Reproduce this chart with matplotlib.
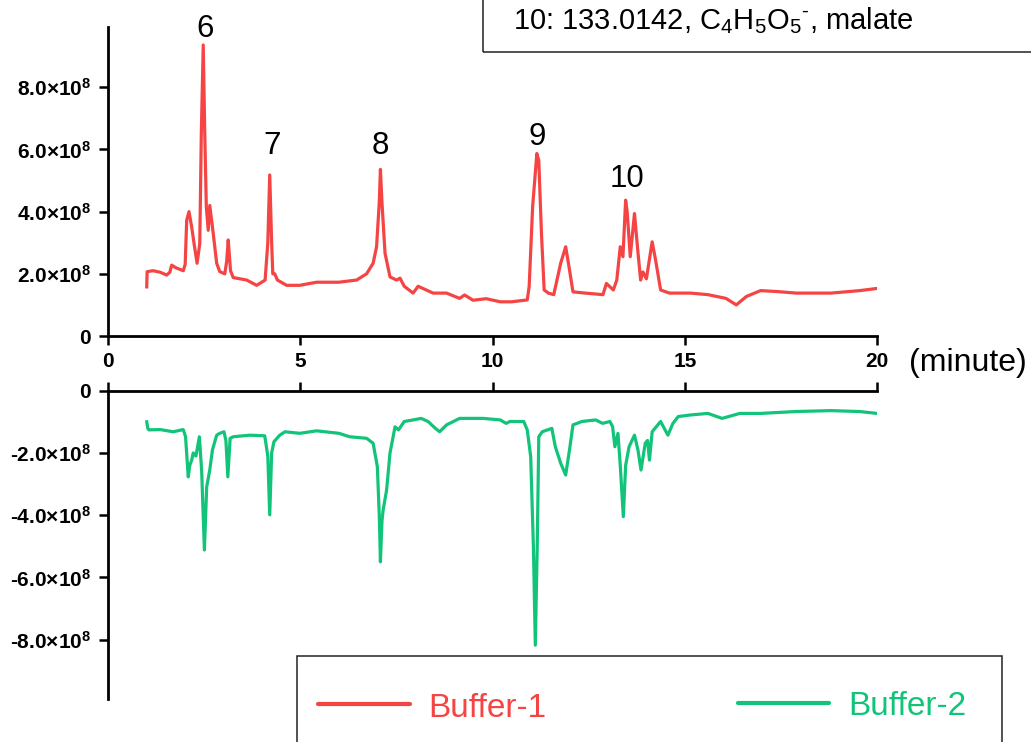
import matplotlib
matplotlib.use("Agg")
import matplotlib.pyplot as plt
from matplotlib.patches import Rectangle
from matplotlib.lines import Line2D
from matplotlib.ticker import FixedLocator, FuncFormatter

plt.rcParams["font.family"] = ["Liberation Sans", "DejaVu Sans"]
plt.rcParams["mathtext.fontset"] = "custom"
plt.rcParams["mathtext.rm"] = "Liberation Sans"
plt.rcParams["mathtext.it"] = "Liberation Sans:italic"
plt.rcParams["mathtext.bf"] = "Liberation Sans:bold"

# ---- data (intensity in units of 1e8) ----
red_time = [1.00, 1.01, 1.17, 1.35, 1.52, 1.60, 1.65, 1.75, 1.95, 2.00, 2.04, 2.10,
            2.17, 2.24, 2.31, 2.38, 2.42, 2.47, 2.51, 2.55, 2.60, 2.64, 2.73, 2.82,
            2.90, 3.03, 3.08, 3.12, 3.18, 3.25, 3.60, 3.86, 4.08, 4.15, 4.20, 4.25,
            4.28, 4.33, 4.40, 4.64, 4.98, 5.42, 6.00, 6.46, 6.72, 6.89, 6.98, 7.05,
            7.08, 7.12, 7.20, 7.33, 7.50, 7.59, 7.70, 7.93, 8.06, 8.45, 8.80, 9.14,
            9.27, 9.49, 9.83, 10.20, 10.49, 10.90, 10.95, 11.04, 11.15, 11.20, 11.27,
            11.34, 11.45, 11.59, 11.77, 11.90, 11.99, 12.09, 12.41, 12.87, 12.96,
            13.14, 13.23, 13.32, 13.39, 13.46, 13.50, 13.58, 13.69, 13.78, 13.85,
            13.91, 14.00, 14.15, 14.24, 14.37, 14.60, 15.15, 15.60, 16.07, 16.34,
            16.60, 16.97, 17.40, 17.90, 18.80, 19.55, 20.00]
red_value = [1.58, 2.07, 2.10, 2.05, 1.96, 2.05, 2.28, 2.20, 2.10, 2.30, 3.73, 4.00,
             3.50, 2.90, 2.34, 2.98, 6.50, 9.36, 6.50, 4.16, 3.40, 4.20, 3.30, 2.34,
             2.07, 2.00, 2.40, 3.09, 2.10, 1.88, 1.80, 1.63, 1.80, 3.00, 5.18, 3.00,
             2.00, 2.00, 1.80, 1.63, 1.63, 1.73, 1.73, 1.80, 2.00, 2.34, 2.87, 4.30,
             5.36, 4.30, 2.66, 1.90, 1.80, 1.86, 1.60, 1.38, 1.60, 1.38, 1.38, 1.21,
             1.32, 1.15, 1.20, 1.10, 1.10, 1.16, 1.59, 4.16, 5.87, 5.65, 3.30,
             1.48, 1.38, 1.33, 2.34, 2.87, 2.20, 1.42, 1.38, 1.33, 1.69,
             1.48, 1.80, 2.87, 2.55, 4.37, 4.00, 2.55, 3.94, 2.70, 1.80,
             2.06, 1.84, 3.03, 2.44, 1.48, 1.38, 1.38, 1.33, 1.21, 1.00,
             1.27, 1.46, 1.43, 1.38, 1.38, 1.46, 1.53]

green_time = [1.00, 1.03, 1.06, 1.35, 1.69, 1.95, 2.01, 2.08, 2.12, 2.17, 2.21, 2.28,
              2.37, 2.43, 2.50, 2.56, 2.64, 2.71, 2.82, 2.90, 3.01, 3.06, 3.11, 3.17,
              3.25, 3.68, 4.07, 4.15, 4.20, 4.25, 4.31, 4.46, 4.60, 4.98, 5.42, 6.00,
              6.28, 6.72, 6.89, 7.00, 7.05, 7.08, 7.12, 7.15, 7.24, 7.33, 7.46, 7.55,
              7.70, 7.93, 8.14, 8.32, 8.50, 8.62, 8.80, 9.14, 9.75, 10.20, 10.35, 10.45,
              10.81, 10.90, 10.99, 11.06, 11.11, 11.16, 11.20, 11.29, 11.54, 11.63,
              11.77, 11.90, 12.00, 12.09, 12.32, 12.68, 12.86, 13.05, 13.12, 13.18,
              13.26, 13.32, 13.40, 13.46, 13.55, 13.69, 13.78, 13.86, 13.97, 14.03,
              14.08, 14.15, 14.37, 14.56, 14.69, 14.83, 15.15, 15.60, 15.97, 16.43,
              16.97, 17.88, 18.80, 19.55, 20.00]
green_value = [-1.00, -1.22, -1.26, -1.25, -1.32, -1.25, -1.48, -2.77, -2.40, -2.23, -2.00, -2.10,
               -1.48, -2.60, -5.12, -3.09, -2.55, -1.90, -1.43, -1.37, -1.32, -1.60, -2.77, -1.53,
               -1.48, -1.43, -1.45, -2.10, -3.99, -2.00, -1.64, -1.43, -1.32, -1.37, -1.29, -1.37,
               -1.48, -1.53, -1.69, -2.44, -4.00, -5.50, -4.20, -3.84, -3.20, -2.00, -1.16, -1.26,
               -0.99, -0.94, -0.89, -0.99, -1.20, -1.32, -1.10, -0.89, -0.89, -0.94, -1.05, -0.99,
               -0.99, -1.26, -2.12, -5.00, -8.18, -5.00, -1.48, -1.32, -1.21, -1.80,
               -2.33, -2.71, -1.90, -1.10, -0.99, -0.94, -1.05, -0.99, -1.15, -1.80,
               -1.37, -2.40, -4.05, -2.40, -1.80, -1.43, -1.90, -2.55, -1.69, -1.60,
               -2.23, -1.32, -0.99, -1.43, -1.05, -0.83, -0.78, -0.73, -0.89, -0.73,
               -0.73, -0.67, -0.64, -0.67, -0.73]

peak_labels = ["6", "7", "8", "9", "10"]
peak_label_time = [2.51, 4.25, 7.09, 11.15, 13.50]
peak_label_base = [9.62, 5.85, 5.85, 6.14, 4.80]

x_ticks = [0, 5, 10, 15, 20]
top_y_ticks = [0, 2, 4, 6, 8]
bottom_y_ticks = [0, -2, -4, -6, -8]

series_names = ["Buffer-1", "Buffer-2"]
RED = "#F54444"
GREEN = "#12C47A"

W, H = 1031, 742
fig = plt.figure(figsize=(W / 100, H / 100), dpi=100)

def fx(px):
    return px / W

def fy(py):
    return 1 - py / H

x0, x1 = 108.3, 877.0
ax1 = fig.add_axes([fx(x0), fy(336.0), fx(x1 - x0), (336.0 - 27.3) / H])
ax2 = fig.add_axes([fx(x0), fy(699.3), fx(x1 - x0), (699.3 - 390.7) / H])

ax1.plot(red_time, [v * 1e8 for v in red_value], color=RED, lw=2.3)
ax2.plot(green_time, [v * 1e8 for v in green_value], color=GREEN, lw=2.3)

ax1.set_xlim(0, 20)
ax1.set_ylim(0, 9.93e8)
ax2.set_xlim(0, 20)
ax2.set_ylim(-9.92e8, 0)


def sci_label(v, pos=None):
    if abs(v) < 1:
        return "0"
    return f"{v / 1e8:.1f}×10" + r"$^{\mathbf{8}}$"


for ax, yt in ((ax1, top_y_ticks), (ax2, bottom_y_ticks)):
    ax.set_facecolor("none")
    ax.yaxis.set_major_locator(FixedLocator([v * 1e8 for v in yt]))
    ax.yaxis.set_major_formatter(FuncFormatter(sci_label))
    ax.xaxis.set_major_locator(FixedLocator(x_ticks))
    ax.spines["right"].set_visible(False)
    for s in ax.spines.values():
        s.set_linewidth(2.0)
    ax.tick_params(axis="both", direction="out", length=6.5, width=1.8,
                   labelsize=15, pad=6)
    for lab in ax.get_yticklabels():
        lab.set_fontweight("bold")

ax1.spines["top"].set_visible(False)
ax2.spines["bottom"].set_visible(False)
ax2.xaxis.tick_top()
ax2.tick_params(axis="x", labeltop=False, labelbottom=False)
ax1.tick_params(axis="x", pad=5)
for lab in ax1.get_xticklabels():
    lab.set_fontweight("bold")

for lab, t, b in zip(peak_labels, peak_label_time, peak_label_base):
    ax1.text(t, b * 1e8, lab, ha="center", va="baseline", fontsize=22.5,
             clip_on=False)

fig.text(fx(908.7), fy(371.0), "(minute)", ha="left", va="baseline", fontsize=23)

# annotation box at top right
fig.add_artist(Rectangle((fx(483), fy(51.7)), 0.6, 0.2, transform=fig.transFigure,
                         fill=False, edgecolor="#222222", lw=1.1))
fig.text(fx(513), fy(29.3),
         r"10: 133.0142, C$_4$H$_5$O$_5$$^{\text{-}}$, malate",
         ha="left", va="baseline", fontsize=21)

# legend box at bottom
fig.add_artist(Rectangle((fx(296.5), -0.1), fx(1001.5 - 296.5), fy(655.7) + 0.1,
                         transform=fig.transFigure, fill=False,
                         edgecolor="#222222", lw=1.1))
fig.add_artist(Line2D([fx(318), fx(410)], [fy(704.3), fy(704.3)],
                      transform=fig.transFigure, color=RED, lw=3.0,
                      solid_capstyle="round"))
fig.text(fx(428), fy(716.7), series_names[0], color=RED, fontsize=24,
         ha="left", va="baseline")
fig.add_artist(Line2D([fx(738), fx(829)], [fy(702.7), fy(702.7)],
                      transform=fig.transFigure, color=GREEN, lw=3.0,
                      solid_capstyle="round"))
fig.text(fx(848), fy(715.0), series_names[1], color=GREEN, fontsize=24,
         ha="left", va="baseline")

fig.savefig("out.png", dpi=100)
